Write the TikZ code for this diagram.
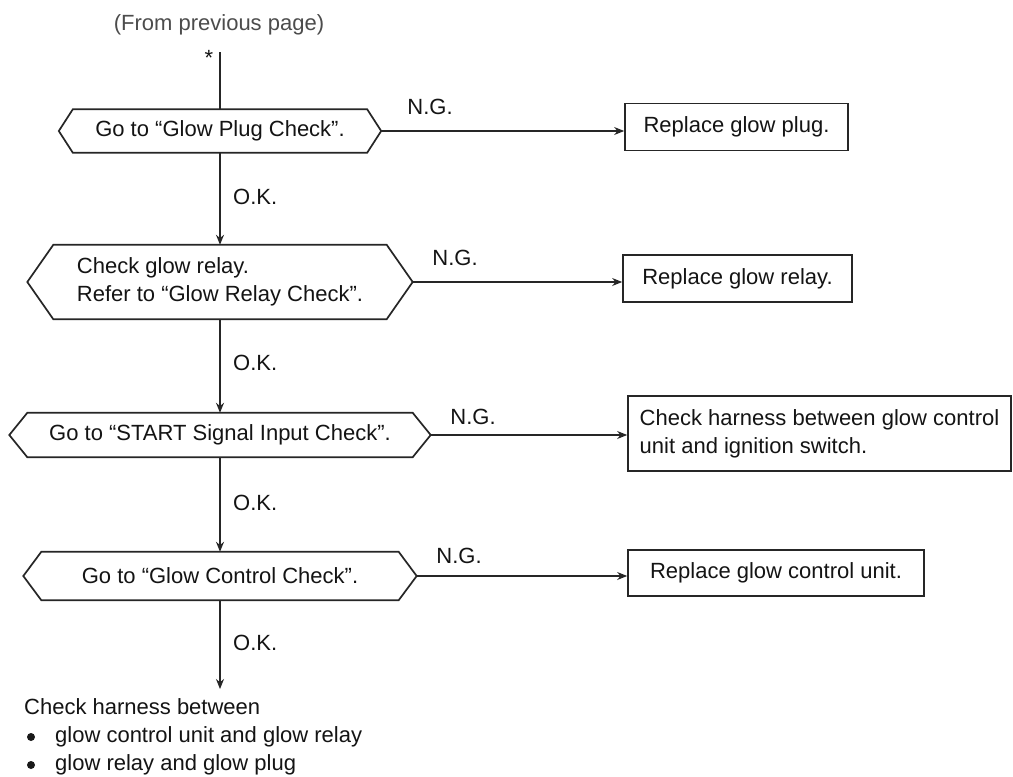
\documentclass[tikz,border=0pt]{standalone}
\usepackage{fontspec}
\setmainfont{Liberation Sans}
\usetikzlibrary{arrows.meta,calc}
\newcommand\hexoutline[2]{\draw[shapeline] (#1.west) -- ([xshift=#2]#1.north west) -- ([xshift=-#2]#1.north east) -- (#1.east) -- ([xshift=-#2]#1.south east) -- ([xshift=#2]#1.south west) -- cycle;}
\begin{document}
\begin{tikzpicture}[x=1pt,y=-1pt,
  every node/.style={font=\fontsize{22}{28}\selectfont, text=black!92},
  shapeline/.style={line width=1.7pt, draw=black!85},
  hexn/.style={inner sep=0pt, align=left},
  boxn/.style={draw=black!85, line width=1.7pt, inner sep=0pt, align=left},
  lbl/.style={inner sep=0pt},
  dot/.style={circle, fill=black!90, inner sep=0pt, minimum size=8pt},
  conn/.style={line width=1.4pt, draw=black!85, -{Stealth[length=10pt,width=8pt]}},
  plainconn/.style={line width=1.4pt, draw=black!85}]
\fill[white] (0,0) rectangle (1013,777);
\useasboundingbox (0,0) rectangle (1013,777);

% header
\node[lbl, text=black!70] (from) at (219,25) {(From previous page)};
\node[lbl] (star) at (209,58) {*};
\coordinate (top) at (220,52);

% decision hexagons
\node[hexn, minimum width=322pt, minimum height=43pt] (h1) at (220,131) {Go to “Glow Plug Check”.};
\hexoutline{h1}{14pt}
\node[hexn, minimum width=385pt, minimum height=74pt] (h2) at (220,282) {Check glow relay.\\Refer to “Glow Relay Check”.};
\hexoutline{h2}{26pt}
\node[hexn, minimum width=421pt, minimum height=44pt] (h3) at (220,435) {Go to “START Signal Input Check”.};
\hexoutline{h3}{18pt}
\node[hexn, minimum width=393pt, minimum height=48pt] (h4) at (220,576) {Go to “Glow Control Check”.};
\hexoutline{h4}{18pt}

% action boxes
\node[boxn, minimum width=223pt, minimum height=47pt] (b1) at (736.5,127) {Replace glow plug.};
\node[boxn, minimum width=229pt, minimum height=47pt] (b2) at (737.5,278.5) {Replace glow relay.};
\node[boxn, minimum width=383pt, minimum height=75pt] (b3) at (819.5,433.5) {Check harness between glow control\\unit and ignition switch.};
\node[boxn, minimum width=296pt, minimum height=46pt] (b4) at (776,573) {Replace glow control unit.};

% vertical flow
\draw[plainconn] (top) -- (h1.north);
\draw[conn] (h1.south) -- (h2.north);
\draw[conn] (h2.south) -- (h3.north);
\draw[conn] (h3.south) -- (h4.north);
\coordinate (end) at (220,689);
\draw[conn] (h4.south) -- (end);

% N.G. branches
\draw[conn] (h1.east) -- (h1.east -| b1.west);
\draw[conn] (h2.east) -- (h2.east -| b2.west);
\draw[conn] (h3.east) -- (h3.east -| b3.west);
\draw[conn] (h4.east) -- (h4.east -| b4.west);

% labels
\node[lbl] (ng1) at (430,107) {N.G.};
\node[lbl] (ng2) at (455,258) {N.G.};
\node[lbl] (ng3) at (473,417) {N.G.};
\node[lbl] (ng4) at (459,556) {N.G.};
\node[lbl, anchor=west] (ok1) at (233,197) {O.K.};
\node[lbl, anchor=west] (ok2) at (233,363) {O.K.};
\node[lbl, anchor=west] (ok3) at (233,503) {O.K.};
\node[lbl, anchor=west] (ok4) at (233,643) {O.K.};

% final instruction
\node[lbl, anchor=west] (fin) at (24,707) {Check harness between};
\node[dot] (bul1) at (31,737) {};
\node[lbl, anchor=west] (fin1) at (55,737) {glow control unit and glow relay};
\node[dot] (bul2) at (31,765) {};
\node[lbl, anchor=west] (fin2) at (55,765) {glow relay and glow plug};
\end{tikzpicture}
\end{document}
